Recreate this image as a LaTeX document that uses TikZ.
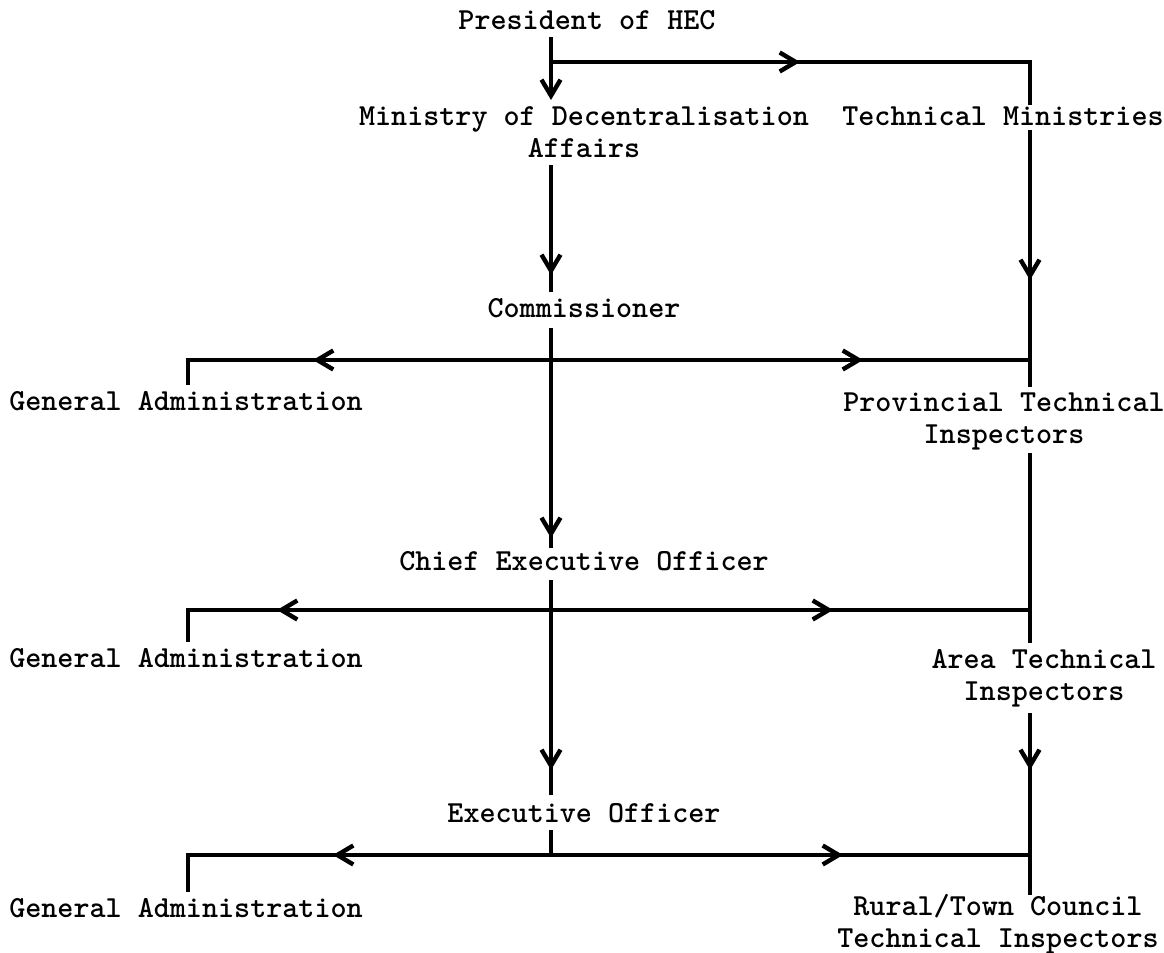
\documentclass[tikz,border=0pt]{standalone}
\usepackage{fontspec}
\usetikzlibrary{arrows.meta,decorations.markings}

\begin{document}
\begin{tikzpicture}[x=0.5pt, y=-0.5pt,
	office/.style={font=\ttfamily\bfseries\fontsize{15.3}{16}\selectfont, inner sep=0pt, align=center, anchor=base},
	wire/.style={line width=2.2pt},
	tipat/.style={postaction={decorate, decoration={markings, mark=at position #1 with {\arrow{Straight Barb[length=8pt,width=9.5pt]}}}}},
	endtip/.style={-{Straight Barb[length=8pt,width=9.5pt]}}]
	\useasboundingbox (0,0) rectangle (1164,953);
	% offices (two-line nodes sit on their last line)
	\node[office] (pres) at (587,30) {President of HEC};
	\node[office] (mda) at (584,157) {Ministry of Decentralisation\\Affairs};
	\node[office] (tm) at (1003,125) {Technical Ministries};
	\node[office] (comm) at (584,317) {Commissioner};
	\node[office] (ga1) at (186,410) {General Administration};
	\node[office] (pti) at (1004,443) {Provincial Technical\\Inspectors};
	\node[office] (ceo) at (584,570) {Chief Executive Officer};
	\node[office] (ga2) at (186,667) {General Administration};
	\node[office] (ati) at (1044,700) {Area Technical\\Inspectors};
	\node[office] (eo) at (584,822) {Executive Officer};
	\node[office] (ga3) at (186,917) {General Administration};
	\node[office] (rtc) at (998,947) {Rural/Town Council\\Technical Inspectors};
	% junctions
	\coordinate (j0) at (551,62);  \coordinate (k0) at (1030,62);
	\coordinate (j1) at (551,360); \coordinate (k1) at (1030,360); \coordinate (g1) at (188,360);
	\coordinate (j2) at (551,610); \coordinate (k2) at (1030,610); \coordinate (g2) at (188,610);
	\coordinate (j3) at (551,855); \coordinate (k3) at (1030,855); \coordinate (g3) at (188,855);
	% lines
	\draw[wire, endtip] ([yshift=-3.5pt]pres.base -| j0) -- ([yshift=28.5pt]mda.base -| j0);
	\draw[wire, tipat=124.5pt] (j0) -- (k0) -- ([yshift=10pt]tm.base -| k0);
	\draw[wire, tipat=55pt] ([yshift=-4pt]mda.base -| j0) -- ([yshift=12.5pt]comm.base -| j0);
	\draw[wire, tipat=75pt] ([yshift=-2.5pt]tm.base -| k0) -- ([yshift=28pt]pti.base -| k0);
	\draw[wire, tipat=105pt] ([yshift=-5.5pt]comm.base -| j1) -- ([yshift=11pt]ceo.base -| j1);
	\draw[wire, tipat=119pt] (j1) -- (g1) -- ([yshift=12.5pt]ga1.base -| g1);
	\draw[wire, tipat=156pt] (j1) -- (k1);
	\draw[wire] ([yshift=-5pt]pti.base -| k1) -- ([yshift=28.5pt]ati.base -| k1);
	\draw[wire, tipat=95pt] ([yshift=-5pt]ceo.base -| j2) -- ([yshift=13.5pt]eo.base -| j2);
	\draw[wire, tipat=137pt] (j2) -- (g2) -- ([yshift=12.5pt]ga2.base -| g2);
	\draw[wire, tipat=141pt] (j2) -- (k2);
	\draw[wire, tipat=28.5pt] ([yshift=-6.5pt]ati.base -| k2) -- ([yshift=26pt]rtc.base -| k2);
	\draw[wire] ([yshift=-4pt]eo.base -| j3) -- (j3);
	\draw[wire, tipat=109pt] (j3) -- (g3) -- ([yshift=12.5pt]ga3.base -| g3);
	\draw[wire, tipat=146pt] (j3) -- (k3);
\end{tikzpicture}
\end{document}
